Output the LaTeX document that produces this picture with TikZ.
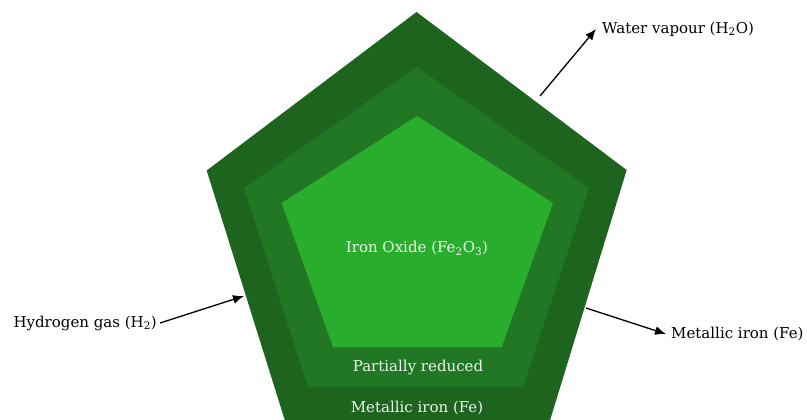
\documentclass[tikz,border=0pt]{standalone}
\usepackage{fontspec}
\setmainfont{DejaVu Serif}
\usetikzlibrary{arrows.meta}
\definecolor{shellouter}{RGB}{29,100,30}
\definecolor{shellmid}{RGB}{34,119,36}
\definecolor{corecol}{RGB}{40,174,44}
\definecolor{labelwhite}{RGB}{236,244,236}
\tikzset{
  lbl/.style={font=\fontsize{15}{18}\selectfont, text=black, inner sep=0pt},
  inlbl/.style={font=\fontsize{15}{18}\selectfont, text=labelwhite, inner sep=0pt},
  flow/.style={-{Latex[length=11pt,width=9pt]}, line width=1.3pt, black},
}
\begin{document}
\begin{tikzpicture}[x=1pt,y=-1pt]
  \useasboundingbox (0,0) rectangle (807,420);
  \clip (0,0) rectangle (807,420);
  % outer shell: metallic iron
  \fill[shellouter] (416.5,12) -- (626.7,170) -- (544,440) -- (291,440) -- (206.7,170.5) -- cycle;
  % middle shell: partially reduced
  \fill[shellmid] (416.7,67) -- (589,188) -- (523,387) -- (308,387) -- (244,188) -- cycle;
  % core: iron oxide
  \fill[corecol] (417,116) -- (553,203) -- (501.7,347) -- (333,347) -- (281.7,203) -- cycle;

  \node[inlbl] (core) at (417,248) {Iron Oxide (Fe\textsubscript{2}O\textsubscript{3})};
  \node[inlbl] (partial) at (418,367) {Partially reduced};
  \node[inlbl] (metal) at (417,408) {Metallic iron (Fe)};

  \node[lbl, anchor=east] (hyd) at (157,323) {Hydrogen gas (H\textsubscript{2})};
  \node[lbl, anchor=west] (water) at (602,29) {Water vapour (H\textsubscript{2}O)};
  \node[lbl, anchor=west] (iron) at (671,334) {Metallic iron (Fe)};

  \coordinate (hydIn) at (244,296);
  \coordinate (waterOut) at (540,96);
  \coordinate (ironOut) at (586,308);

  \draw[flow] (hyd.east) ++(3,0) coordinate (hydStart) (hydStart) -- (hydIn);
  \draw[flow] (waterOut) -- ([xshift=-6pt]water.west);
  \draw[flow] (ironOut) -- ([xshift=-5pt]iron.west);
\end{tikzpicture}
\end{document}
